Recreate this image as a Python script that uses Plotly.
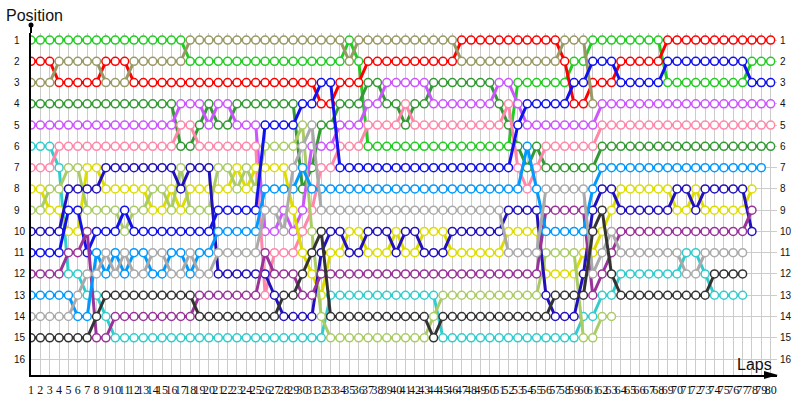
import plotly.graph_objects as go

laps = list(range(1, 81))
positions = list(range(1, 17))

# position of every car on each lap (lap 1 first); shorter lists = fewer laps run
lime = [1,1,1,1,1,1,1,1,1,1, 1,1,1,1,1,1,1,2,2,2, 2,2,2,2,2,2,2,2,2,2,
        2,2,2,2,1,2,6,6,6,6, 6,6,6,6,6,6,6,6,6,6, 6,6,3,3,3,3,3,3,2,2,
        1,1,1,1,1,1,1,1,3,3, 3,3,3,3,3,3,3,2,2,2]
red = [2,2,2,3,3,3,3,3,2,2, 2,3,3,3,3,3,3,3,3,3, 3,3,3,3,3,3,3,3,3,3,
       3,4,4,3,3,3,2,2,2,2, 2,2,2,2,2,2,1,1,1,1, 1,1,1,1,1,1,1,2,4,4,
       3,3,3,2,2,2,2,2,1,1, 1,1,1,1,1,1,1,1,1,1]
olive = [3,3,3,2,2,2,2,2,3,3, 3,2,2,2,2,2,2,1,1,1, 1,1,1,1,1,1,1,1,1,1,
         1,1,1,1,2,1,1,1,1,1, 1,1,1,1,1,1,2,2,2,2, 2,2,2,2,2,2,2,1,1,1,
         4]
dark_green = [4,4,4,4,4,4,4,4,4,4, 4,4,4,4,4,4,6,6,5,4, 5,5,4,4,4,4,4,4,4,8,
              7,5,5,4,4,4,3,3,4,4, 5,4,4,3,3,3,3,3,3,3, 4,5,6,7,6,7,7,7,7,7,
              7,6,6,6,6,6,6,6,6,6, 6,6,6,6,6,6,6,6,6,6]
violet = [5,5,5,5,5,5,5,5,5,5, 5,5,5,5,5,5,4,4,4,5, 4,4,5,5,5,10,10,9,10,9,
          6,6,6,5,5,5,4,4,3,3, 3,3,3,4,4,4,4,4,4,4, 3,3,4,5,5,5,5,5,5,5,
          5,4,4,4,4,4,4,4,4,4, 4,4,4,4,4,4,4,4,4,4]
cyan = [6,6,6,7,12,12,13,13,14,15, 15,15,15,15,15,15,15,15,15,15, 15,15,15,15,15,15,15,15,15,15,
        15,15,13,13,13,13,13,13,13,13, 13,13,13,13,15,15,15,15,15,15, 15,15,15,15,15,15,15,15,15,14,
        14,13,13,12,12,12,12,12,12,12, 11,11,12,13,13,13,13]
pink = [7,7,7,6,6,6,6,6,6,6, 6,6,6,6,6,6,5,5,6,6, 6,6,6,6,6,13,11,11,11,10,
        9,7,7,6,6,6,5,5,5,5, 4,5,5,5,5,5,5,5,5,5, 5,4,7,8,7,6,6,6,6,6,
        6,5,5,5,5,5,5,5,5,5, 5,5,5,5,5,5,5,5,5,5]
yellow = [8,8,9,9,10,10,7,7,8,8, 8,8,8,9,9,8,9,8,8,8, 8,8,7,8,7,7,7,7,9,11,
          12,13,11,11,10,10,11,11,11,10, 11,11,10,10,10,11,11,11,11,11, 11,10,10,10,10,12,12,12,12,11,
          11,10,9,8,8,8,8,8,8,9, 9,8,9,9,9,9,9,8]
yellow_green = [9,9,8,8,7,7,9,9,9,9, 10,9,9,8,8,9,7,9,9,9, 7,7,8,7,8,6,6,6,6,5,
                10,14,15,15,15,15,15,15,15,15, 15,15,15,14,13,13,13,13,13,13, 13,13,13,13,13,11,11,11,11,15,
                15,14,14]
dark_blue = [10,10,10,10,8,8,8,8,7,7, 7,7,7,7,7,7,8,7,7,7, 12,12,12,12,12,12,13,14,14,14,
             14,11,10,10,11,11,10,10,10,11, 10,10,11,11,11,10,10,10,10,10, 10,9,9,9,9,13,14,14,14,12,
             9,8,8,9,9,9,9,9,9,8, 8,9,8,8,8,8,8,10]
blue = [11,11,11,11,9,9,11,10,10,10, 9,10,10,10,10,10,10,10,10,10, 9,9,9,9,9,5,5,5,5,4,
        4,3,3,7,7,7,7,7,7,7, 7,7,7,7,7,7,7,7,7,7, 7,7,5,4,4,4,4,4,3,3,
        2,2,2,3,3,3,3,3,2,2, 2,2,2,2,2,2,2,3,3,3]
purple = [12,12,12,12,11,11,10,15,15,14, 14,14,14,14,14,14,14,14,13,13, 13,13,13,13,13,11,12,12,12,13,
          13,12,12,12,12,12,12,12,12,12, 12,12,12,12,12,12,12,12,12,12, 12,12,12,12,12,9,9,9,9,9,
          13,12,11,10,10,10,10,10,10,10, 10,10,10,10,10,10,10,9]
sky_blue = [13,13,13,13,13,14,14,11,12,11, 12,11,11,12,12,11,11,12,11,11, 10,10,10,10,10,8,8,8,8,7,
            8,8,8,8,8,8,8,8,8,8, 8,8,8,8,8,8,8,8,8,8, 8,8,8,6,8,10,10,10,10,10,
            8,7,7,7,7,7,7,7,7,7, 7,7,7,7,7,7,7,7,7]
gray = [14,14,14,14,14,13,12,12,11,12, 11,12,12,11,11,12,12,11,12,12, 11,11,11,11,11,9,9,10,7,6,
        5,9,9,9,9,9,9,9,9,9, 9,9,9,9,9,9,9,9,9,9, 9,11,11,11,11,8,8,8,8,8,
        12,11,10,11,11,11,11,11,11,11, 12,12,11,11,11,11,11]
black = [15,15,15,15,15,15,15,14,13,13, 13,13,13,13,13,13,13,13,14,14, 14,14,14,14,14,14,14,13,13,12,
         11,10,14,14,14,14,14,14,14,14, 14,14,14,15,14,14,14,14,14,14, 14,14,14,14,14,14,13,13,13,13,
         10,9,12,13,13,13,13,13,13,13, 13,13,13,12,12,12,12]

series = [
    ("lime", lime, "#22cc22"),
    ("red", red, "#ff0000"),
    ("olive", olive, "#999966"),
    ("dark green", dark_green, "#339933"),
    ("violet", violet, "#cc55ff"),
    ("cyan", cyan, "#33cccc"),
    ("pink", pink, "#ff88aa"),
    ("yellow", yellow, "#dddd00"),
    ("yellow green", yellow_green, "#aacc66"),
    ("dark blue", dark_blue, "#2211bb"),
    ("blue", blue, "#1111ee"),
    ("purple", purple, "#993399"),
    ("sky blue", sky_blue, "#0099ff"),
    ("gray", gray, "#aaaaaa"),
    ("black", black, "#333333"),
]

# plot box in pixels
W, H = 800, 400
L, R, T, B = 31, 23, 33, 25
pw, ph = W - L - R, H - T - B

def px(x):
    return (x - L) / pw

def py(y):
    return (H - B - y) / ph

fig = go.Figure()
for name, pos, color in series:
    fig.add_trace(go.Scatter(
        x=laps[:len(pos)],
        y=pos,
        mode="lines+markers",
        name=name,
        line=dict(color=color, width=3),
        marker=dict(symbol="circle", size=8, color="white",
                    line=dict(color=color, width=1.5)),
        hoverinfo="skip",
    ))

label_font = dict(family="Liberation Sans", size=10, color="#111")
annotations = []
for p in positions:
    annotations.append(dict(x=px(12), y=p, xref="paper", yref="y", text=str(p),
                            showarrow=False, xanchor="left", yanchor="middle",
                            font=label_font))
    annotations.append(dict(x=px(778), y=p, xref="paper", yref="y", text=str(p),
                            showarrow=False, xanchor="left", yanchor="middle",
                            font=label_font))
annotations.append(dict(x=px(4), y=py(16), xref="paper", yref="paper", text="Position",
                        showarrow=False, xanchor="left", yanchor="middle",
                        font=dict(family="Liberation Sans", size=16, color="#111")))
annotations.append(dict(x=px(774), y=py(364), xref="paper", yref="paper", text="Laps",
                        showarrow=False, xanchor="right", yanchor="middle",
                        font=dict(family="Liberation Sans", size=16, color="#111")))

shapes = [
    # y axis runs a little past the plot top, with a dot at its end
    dict(type="line", xref="paper", yref="paper", x0=0, x1=0, y0=1, y1=py(25),
         line=dict(color="black", width=2)),
    dict(type="circle", xref="paper", yref="paper",
         x0=px(28.5), x1=px(33.5), y0=py(27.5), y1=py(22.5),
         fillcolor="black", line=dict(color="black", width=0)),
    # arrow head on the x axis
    dict(type="path", xref="paper", yref="paper",
         path=f"M {px(764)},{py(371)} L {px(778)},{py(375)} L {px(764)},{py(379)} Z",
         fillcolor="black", line=dict(color="black", width=0)),
]

fig.update_layout(
    width=W, height=H,
    margin=dict(l=L, r=R, t=T, b=B, autoexpand=False),
    paper_bgcolor="white", plot_bgcolor="white",
    showlegend=False,
    xaxis=dict(range=[1, 1 + pw / 9.363], tickmode="array", tickvals=laps,
               ticktext=[str(v) for v in laps], tickangle=0, automargin=False,
               showgrid=True, gridcolor="#cccccc", gridwidth=1, zeroline=False,
               showline=True, linecolor="black", linewidth=2,
               ticks="", ticklabelstandoff=3,
               tickfont=dict(family="Liberation Serif", size=12, color="#111")),
    yaxis=dict(range=[16.75, 0.67], tickmode="array", tickvals=positions, automargin=False,
               showticklabels=False, showgrid=True, gridcolor="#cccccc", gridwidth=1,
               zeroline=False, showline=True, linecolor="black", linewidth=2, ticks=""),
    annotations=annotations,
    shapes=shapes,
)

fig.write_html("out.html", config={"displayModeBar": False},
               post_script="document.body.style.margin='0px';")
